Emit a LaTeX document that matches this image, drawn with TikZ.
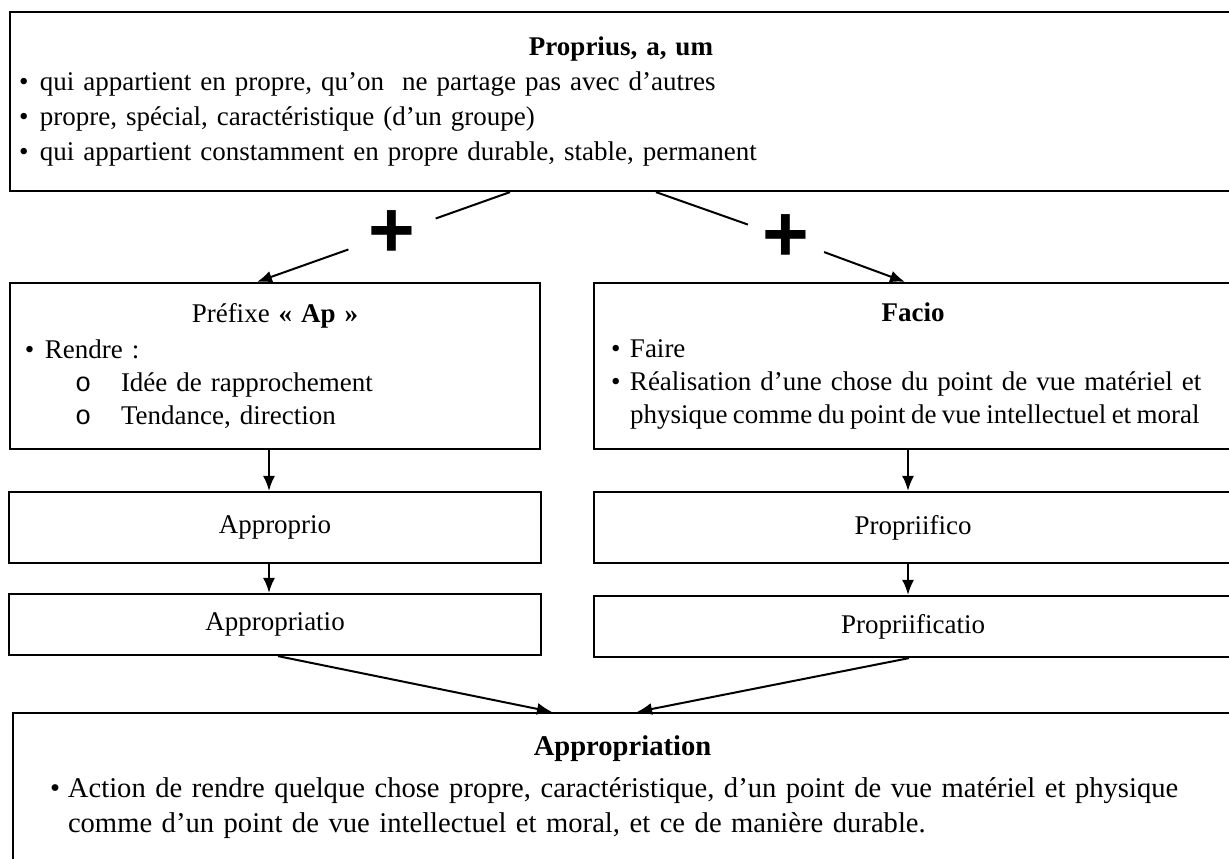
\documentclass[tikz,border=0pt]{standalone}
\usepackage{fontspec}
\setmainfont{Liberation Serif}
\setmonofont{Liberation Mono}
\newfontfamily\plusfont{Liberation Sans}
\usetikzlibrary{arrows.meta,positioning}
\setlength{\parindent}{0pt}
\newcommand{\puce}[1]{\makebox[#1][l]{\textbullet}}
\newcommand{\rond}[1]{\makebox[#1][l]{\texttt{o}}}

\begin{document}
\begin{tikzpicture}[x=0.5pt, y=-0.5pt,
    every node/.style={rectangle, draw=black, line width=1.1pt,
        font=\fontsize{13.5}{17.5}\selectfont},
    bigbox/.style={align=left, inner ysep=0pt},
    midbox/.style={bigbox, minimum height=83pt, font=\fontsize{13.5}{16.5}\selectfont},
    wordbox/.style={minimum height=35.5pt, minimum width=266pt, inner sep=0pt},
    plus/.style={draw=none, inner sep=0pt, minimum height=20pt,
        font=\plusfont\bfseries\fontsize{40}{40}\selectfont},
    link/.style={line width=1pt},
    arr/.style={-{Latex[length=7.5pt, width=6pt]}, line width=1pt},
]
\useasboundingbox (0,0) rectangle (1229,858);
\clip (0,0) rectangle (1229,858);

% Row 1: Latin adjective
\node[bigbox, text width=602pt, inner xsep=4.5pt, minimum height=89.5pt] (proprius) at (621,101.5) {%
    {\centering\bfseries Proprius, a, um\par}
    \puce{10.5pt}qui appartient en propre, qu’on\ \ ne partage pas avec d’autres\par
    \puce{10.5pt}propre, spécial, caractéristique (d’un groupe)\par
    \puce{10.5pt}qui appartient constamment en propre durable, stable, permanent};

% Plus signs
\node[plus, minimum width=42.5pt] (plusL) at (392,234) {+};
\node[plus, minimum width=37pt]   (plusR) at (786,238) {+};

% Row 2: prefix and verb
\node[midbox, text width=250pt, inner xsep=7.5pt] (prefixe) at (275,366) {%
    {\centering Préfixe \textbf{«~Ap~»}\par}\vspace{1.5pt}
    \puce{10pt}Rendre :\par
    \hspace*{25pt}\rond{23pt}Idée de rapprochement\par
    \hspace*{25pt}\rond{23pt}Tendance, direction\par\vspace{-6pt}};
\node[midbox, text width=302pt, inner xsep=8.5pt] (facio) at (913,366) {%
    {\centering\bfseries Facio\par}\vspace{1.5pt}
    \puce{9.5pt}Faire\par
    \mbox{\puce{9.5pt}Réalisation d’une chose du point de vue matériel et}\par
    \mbox{\hspace*{9.5pt}\spaceskip=0.2em physique comme du point de vue intellectuel et moral}\par\vspace{-6pt}};

% Row 3: verbs
\node[wordbox] (approprio) at (275,527.5) {Approprio};
\node[wordbox, minimum width=319pt] (propriifico) at (913,527.5) {Propriifico};

% Row 4: nouns
\node[wordbox, minimum height=30.5pt] (appropriatio) at (275,624.5) {Appropriatio};
\node[wordbox, minimum height=30.5pt, minimum width=319pt] (propriificatio) at (913,626.5) {Propriificatio};

% Row 5: result
\node[bigbox, text width=572.5pt, inner xsep=18.5pt, minimum height=74.5pt,
    font=\fontsize{14.3}{17.5}\selectfont] (appropriation) at (622.5,787.5) {%
    {\centering\bfseries Appropriation\par}\vspace{3.5pt}
    \mbox{\puce{9pt}Action de rendre quelque chose propre, caractéristique, d’un point de vue matériel et physique}\par
    \mbox{\hspace*{9pt}comme d’un point de vue intellectuel et moral, et ce de manière durable.}};

% Arrows: composition
\draw[link] ([xshift=-55.5pt]proprius.south) -- (plusL);
\draw[arr]  (plusL) -- ([xshift=-9pt]prefixe.north);
\draw[link] ([xshift=17.5pt]proprius.south) -- (plusR);
\draw[arr]  (plusR) -- ([xshift=-4pt]facio.north);

% Arrows: derivation
\draw[arr] ([xshift=-3pt]prefixe.south) -- ([xshift=-3pt]approprio.north);
\draw[arr] ([xshift=-2.5pt]facio.south) -- ([xshift=-2.5pt]propriifico.north);
\draw[arr] ([xshift=-3pt]approprio.south) -- ([xshift=-3pt]appropriatio.north);
\draw[arr] ([xshift=-2.5pt]propriifico.south) -- ([xshift=-2.5pt]propriificatio.north);

% Arrows: convergence
\draw[arr] ([xshift=1.5pt]appropriatio.south) -- ([xshift=-35.25pt]appropriation.north);
\draw[arr] ([xshift=-2pt]propriificatio.south) -- ([xshift=7.25pt]appropriation.north);

\end{tikzpicture}
\end{document}
